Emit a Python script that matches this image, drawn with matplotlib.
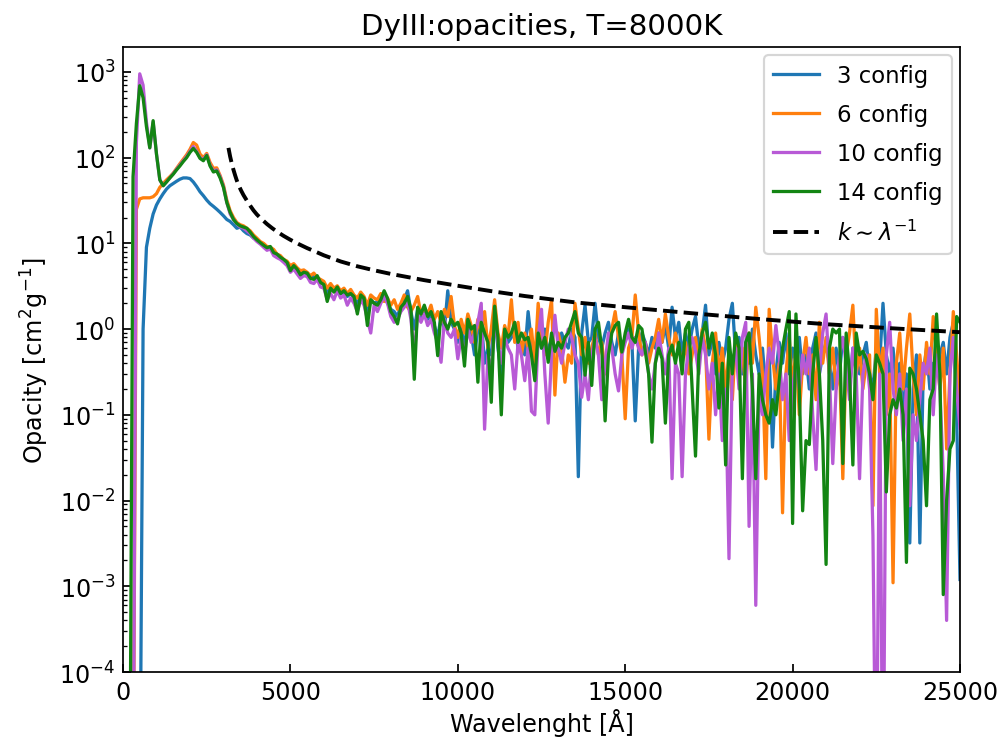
import numpy as np
import matplotlib
matplotlib.use("Agg")
import matplotlib.pyplot as plt

# wavelength grid [Angstrom], 100 A steps
wavelength = np.arange(100, 25001, 100)

# 3 config opacity (rows of 10 points = 1000 A each)
k_3config = [
    1e-6, 1e-6, 1e-6, 1e-6, 1e-6, 1.0, 9, 15, 22, 28,
    33, 38, 43, 47, 50, 53, 56, 58, 58, 57,
    52, 46, 40, 36, 32, 29, 27, 25, 23, 21,
    19, 18, 16.5, 15, 15.5, 14, 13, 12.5, 11.5, 11,
    10, 9.5, 8.8, 8.8, 8.0, 7.3, 6.8, 6.4, 5.9, 5.2,
    5.4, 4.9, 4.5, 4.7, 4.3, 4.0, 4.1, 3.7, 3.6, 3.3,
    2.6, 3.1, 2.8, 3.0, 2.6, 2.7, 2.4, 2.6, 2.3, 2.0,
    2.4, 2.2, 1.5, 2.2, 2.0, 2.1, 2.3, 2.6, 2.0, 1.7,
    1.6, 1.4, 1.9, 2.2, 2.8, 1.6, 1.0, 1.7, 1.4, 1.6,
    1.3, 1.5, 1.1, 0.8, 1.4, 1.0, 2.8, 1.2, 1.0, 0.7,
    1.1, 0.6, 1.2, 0.9, 0.5, 1.0, 1.3, 0.4, 0.6, 0.5,
    1.5, 0.6, 0.3, 0.9, 0.7, 0.8, 1.1, 0.6, 0.7, 0.5,
    1.6, 0.7, 0.3, 0.9, 0.6, 1.0, 0.5, 0.8, 0.6, 0.5,
    0.9, 0.7, 0.6, 1.0, 0.8, 0.019, 0.9, 1.9, 0.7, 0.8,
    2.0, 0.8, 0.6, 0.9, 1.2, 0.7, 0.5, 0.9, 0.6, 0.8,
    1.0, 0.7, 0.085, 0.6, 0.9, 0.7, 0.5, 0.8, 0.6, 0.9,
    0.7, 1.1, 0.6, 1.8, 0.8, 1.2, 0.5, 0.9, 0.6, 1.0,
    1.4, 0.6, 0.9, 1.9, 0.5, 0.8, 0.3, 0.7, 0.4, 0.6,
    1.3, 2.0, 0.5, 0.8, 0.3, 0.7, 0.4, 1.0, 0.5, 0.3,
    0.6, 0.2, 0.5, 0.042, 0.3, 0.7, 0.4, 0.9, 0.3, 0.6,
    0.4, 0.8, 0.3, 0.5, 0.2, 0.6, 0.9, 0.3, 0.5, 0.7,
    0.4, 0.2, 0.6, 0.3, 0.8, 0.5, 0.2, 0.6, 0.4, 0.3,
    0.5, 0.7, 0.3, 0.2, 0.6, 0.4, 2.0, 0.5, 0.3, 0.6,
    0.2, 0.4, 0.1, 0.3, 0.0032, 0.2, 0.5, 0.0032, 0.3, 0.6,
    0.2, 0.4, 0.3, 0.5, 0.7, 0.3, 0.8, 1.2, 0.1, 0.0012,
]

# 6 config opacity
k_6config = [
    1e-6, 1e-6, 1e-6, 25, 33, 34, 34, 34, 35, 38,
    45, 50, 55, 60, 66, 75, 85, 96, 108, 125,
    150, 140, 110, 100, 112, 88, 75, 76, 62, 48,
    32, 24, 20, 17.5, 16.5, 16, 15, 14, 12.5, 11.5,
    10.5, 10, 9.2, 9.0, 8.5, 7.5, 7.2, 6.5, 6.2, 5.5,
    5.8, 5.2, 4.8, 4.9, 4.6, 4.2, 4.5, 4.0, 3.8, 3.6,
    3.0, 3.4, 3.0, 3.2, 2.8, 3.0, 2.6, 2.9, 2.5, 2.3,
    2.7, 2.4, 1.9, 2.5, 2.3, 2.2, 2.6, 2.1, 2.3, 1.9,
    2.2, 1.7, 2.0, 2.5, 1.8, 1.6, 1.9, 2.4, 1.5, 1.8,
    1.5, 1.9, 1.3, 1.6, 1.2, 1.7, 1.4, 2.4, 1.1, 0.8,
    1.3, 0.9, 1.5, 1.1, 0.7, 1.3, 0.9, 1.6, 0.6, 1.0,
    2.2, 0.9, 0.6, 1.1, 0.8, 2.2, 0.7, 1.2, 0.5, 0.9,
    0.6, 1.0, 0.4, 2.0, 0.8, 0.5, 1.2, 2.2, 0.17, 0.9,
    0.6, 0.24, 0.5, 0.4, 2.0, 1.0, 0.5, 0.8, 0.4, 0.6,
    0.9, 0.5, 0.7, 0.3, 0.6, 1.0, 1.6, 0.8, 0.5, 0.09,
    0.6, 0.8, 2.5, 0.9, 0.5, 0.7, 0.4, 0.6, 0.8, 1.3,
    0.7, 1.5, 0.8, 0.5, 0.9, 0.6, 0.4, 0.7, 0.3, 0.5,
    0.8, 0.4, 1.0, 0.6, 0.052, 0.4, 0.9, 0.3, 0.6, 0.2,
    0.5, 0.15, 0.8, 0.3, 0.6, 0.2, 0.9, 0.4, 1.8, 0.8,
    0.3, 0.018, 1.7, 0.5, 0.2, 0.4, 0.0072, 0.3, 0.8, 0.2,
    0.6, 0.1, 0.4, 0.8, 0.3, 0.5, 0.15, 1.2, 0.4, 0.8,
    0.3, 0.6, 0.2, 0.4, 0.018, 0.5, 0.9, 1.9, 0.3, 0.6,
    0.2, 0.4, 0.5, 0.0087, 1.7, 0.3, 0.6, 0.1, 0.3, 0.0011,
    0.4, 0.9, 0.2, 0.6, 1.5, 0.3, 0.1, 0.5, 0.2, 0.7,
    0.3, 1.4, 0.5, 0.2, 0.6, 0.04, 0.3, 1.6, 0.5, 0.13,
]

# 10 config opacity
k_10config = [
    1e-6, 1e-6, 1e-6, 150, 950, 700, 260, 130, 260, 110,
    55, 47, 52, 58, 65, 73, 82, 92, 103, 118,
    135, 118, 100, 95, 108, 82, 70, 72, 60, 46,
    30, 22, 19, 17, 15.5, 15, 14, 13, 11.5, 10.5,
    9.8, 9, 8.3, 8.6, 7.2, 6.8, 6.5, 6.0, 5.5, 4.6,
    5.0, 4.4, 3.9, 4.2, 4.1, 3.5, 3.4, 3.8, 3.1, 3.0,
    2.2, 2.6, 2.2, 2.8, 2.3, 2.5, 1.9, 2.3, 2.0, 1.6,
    2.2, 1.9, 1.3, 0.9, 1.9, 1.6, 2.0, 2.4, 2.0, 1.4,
    1.2, 1.3, 1.6, 1.8, 2.1, 1.3, 0.5, 1.5, 1.2, 1.5,
    1.1, 1.3, 0.9, 0.7, 0.41, 1.3, 0.9, 0.8, 1.0, 0.45,
    0.8, 0.5, 1.0, 0.7, 0.9, 1.2, 2.0, 0.068, 0.5, 0.3,
    1.3, 0.7, 0.4, 0.8, 0.6, 0.5, 0.2, 0.7, 0.5, 0.25,
    0.6, 0.11, 0.1, 0.8, 1.7, 0.3, 0.08, 0.5, 1.45, 0.6,
    0.4, 0.7, 1.0, 0.8, 0.5, 0.4, 0.16, 0.3, 0.15, 0.5,
    0.8, 0.5, 0.15, 0.4, 0.9, 0.6, 0.3, 0.19, 0.5, 0.7,
    0.9, 0.6, 0.8, 0.6, 0.5, 0.7, 0.3, 0.2, 0.4, 0.9,
    0.5, 0.3, 0.6, 0.018, 0.4, 0.3, 0.019, 0.3, 0.6, 0.8,
    0.55, 0.3, 0.8, 0.5, 0.2, 0.4, 0.1, 0.3, 0.05, 0.2,
    0.0021, 0.4, 0.6, 0.2, 0.8, 1.2, 0.005, 0.3, 0.0006, 0.2,
    0.1, 0.3, 0.6, 0.4, 1.1, 0.5, 0.15, 0.3, 0.05, 0.2,
    0.4, 0.2, 0.5, 0.3, 0.6, 0.1, 0.023, 0.3, 0.9, 1.5,
    0.3, 0.027, 0.2, 0.5, 0.8, 0.4, 0.15, 0.6, 0.3, 0.018,
    0.3, 0.5, 0.2, 0.0039, 1e-6, 0.3, 1e-6, 0.5, 1.2, 0.2,
    0.1, 0.3, 0.05, 0.2, 0.0087, 0.1, 0.05, 0.15, 0.4, 0.3,
    0.6, 0.1, 0.5, 0.2, 0.02, 0.0004, 0.3, 0.8, 0.2, 0.07,
]

# 14 config opacity
k_14config = [
    1e-6, 1e-6, 60, 250, 690, 500, 230, 130, 270, 110,
    55, 47, 52, 58, 64, 72, 80, 90, 100, 115,
    128, 115, 98, 92, 106, 80, 68, 70, 58, 45,
    30, 23, 19, 17, 16, 15.5, 15, 13.5, 12, 11,
    10.2, 9.5, 8.9, 9.2, 7.8, 7.5, 6.9, 6.5, 6.0, 4.8,
    5.5, 5.0, 4.3, 4.6, 4.5, 3.9, 3.8, 4.2, 3.5, 3.3,
    2.1, 3.0, 2.7, 3.1, 2.6, 2.8, 2.5, 2.6, 2.4, 1.5,
    2.5, 2.3, 1.1, 2.2, 2.0, 1.9, 2.2, 2.8, 2.3, 1.6,
    1.4, 1.15, 1.8, 2.0, 2.4, 1.7, 0.26, 1.8, 1.5, 1.9,
    1.4, 1.6, 1.2, 0.49, 1.6, 1.2, 1.0, 1.3, 1.1, 1.2,
    0.9, 0.37, 1.3, 1.0, 1.1, 0.24, 1.2, 0.9, 0.7, 0.14,
    1.85, 0.8, 0.10, 1.0, 0.8, 0.9, 1.2, 0.7, 0.9, 0.75,
    0.8, 0.5, 0.25, 0.9, 0.6, 0.8, 0.41, 0.9, 0.55, 0.7,
    0.6, 0.8, 0.9, 1.2, 1.6, 0.9, 0.8, 0.29, 0.7, 0.22,
    1.0, 1.2, 0.6, 0.085, 0.5, 0.9, 1.1, 1.2, 0.54, 0.9,
    1.3, 0.8, 0.7, 1.1, 1.0, 0.55, 0.3, 0.048, 0.4, 0.6,
    0.45, 0.08, 0.5, 0.65, 0.4, 0.7, 0.3, 1.0, 1.2, 0.2,
    0.033, 0.5, 0.9, 1.2, 0.6, 0.9, 0.5, 0.12, 0.4, 0.026,
    0.8, 0.3, 0.9, 0.6, 0.018, 0.7, 0.9, 0.2, 0.018, 0.3,
    0.15, 0.1, 0.08, 0.15, 0.1, 0.25, 0.6, 1.0, 1.6, 0.0054,
    1.5, 0.2, 0.0076, 0.05, 0.045, 0.3, 0.8, 0.3, 0.05, 0.0018,
    0.6, 1.0, 0.9, 1.0, 0.027, 0.9, 0.3, 0.026, 0.9, 0.5,
    0.55, 0.45, 0.3, 0.15, 0.5, 0.4, 0.3, 0.0126, 0.1, 0.15,
    0.12, 0.2, 0.1, 0.0019, 0.35, 0.3, 0.2, 0.1, 0.05, 0.0087,
    0.15, 0.2, 1.5, 0.3, 0.0008, 0.01, 0.04, 0.05, 1.4, 1.2,
]

# k ~ lambda^-1 reference curve
ref_wavelength = [3150, 3200, 3250, 3300, 3350, 3400, 3450, 3525, 3600, 3700,
                  3800, 3900, 4000, 4150, 4300, 4450, 4600, 4800, 5000, 5250,
                  5500, 5750, 6000, 6500, 7000, 7500, 8000, 9000, 10000, 11000,
                  12000, 13500, 15000, 17000, 19000, 21000, 23000, 25000]
ref_k = [130, 103, 85, 72, 62, 54, 48, 41.5, 36.5, 31.5,
         27.5, 24.2, 21.7, 19.0, 16.8, 15.1, 13.7, 12.2, 11.0, 9.8,
         8.8, 8.0, 7.25, 6.15, 5.4, 4.85, 4.4, 3.72, 3.2, 2.77,
         2.43, 2.05, 1.8, 1.53, 1.31, 1.14, 1.02, 0.92]

series = [
    ("3 config", k_3config, "#1f77b4"),
    ("6 config", k_6config, "#ff7f0e"),
    ("10 config", k_10config, "#b85ad6"),
    ("14 config", k_14config, "#138513"),
]

fig = plt.figure(figsize=(6.4, 4.7296), dpi=156.25)
ax = fig.add_axes([0.123, 0.0893, 0.837, 0.8457])

for label, vals, color in series:
    ax.plot(wavelength, vals, color=color, lw=1.5, label=label)
ax.plot(ref_wavelength, ref_k, "k--", lw=1.8, label=r"$k\sim\lambda^{-1}$")

ax.set_yscale("log")
ax.set_xlim(0, 25000)
ax.set_ylim(1e-4, 1950)
ax.set_xticks([0, 5000, 10000, 15000, 20000, 25000])
ax.tick_params(axis="both", which="both", direction="in", labelsize=11)
ax.set_xlabel("Wavelenght [Å]", fontsize=11, labelpad=2)
ax.set_ylabel(r"Opacity [cm$^2$g$^{-1}$]", fontsize=11)
ax.set_title("DyIII:opacities, T=8000K", fontsize=13.5)
ax.legend(loc="upper right", fontsize=10.5, labelspacing=0.7,
          borderaxespad=0.35)

fig.savefig("out.png", dpi=156.25)
